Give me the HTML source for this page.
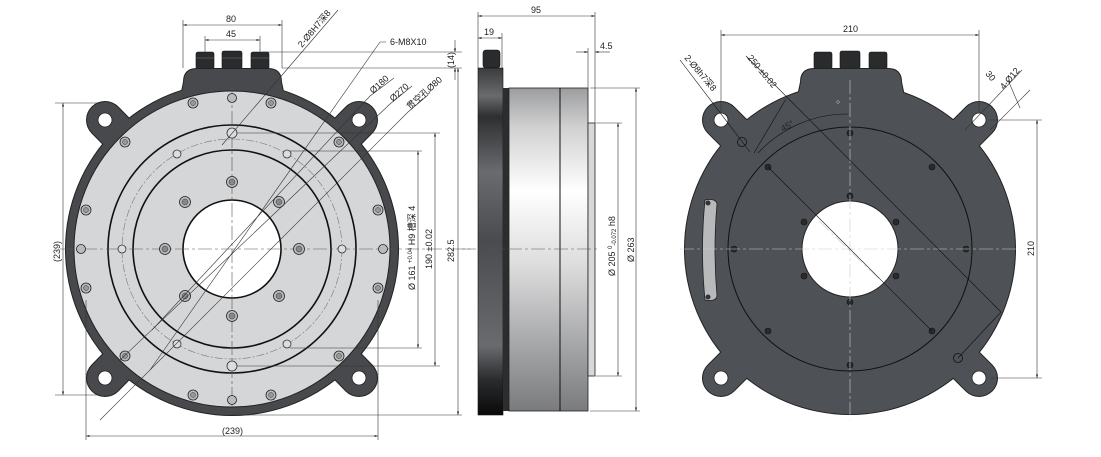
<!DOCTYPE html>
<html><head><meta charset="utf-8"><style>
html,body{margin:0;padding:0;background:#fff;}
svg{display:block;}
text{font-family:"Liberation Sans","Noto Sans CJK SC",sans-serif;font-size:9px;fill:#222;}
</style></head><body>
<svg width="1101" height="457" viewBox="0 0 1101 457" xmlns="http://www.w3.org/2000/svg">
<defs>
<linearGradient id="side" gradientUnits="userSpaceOnUse" x1="0" y1="88" x2="0" y2="411">
<stop offset="0" stop-color="#9c9d9f"/><stop offset="0.12" stop-color="#d0d0d1"/><stop offset="0.32" stop-color="#ffffff"/><stop offset="0.55" stop-color="#dcdcdd"/><stop offset="0.85" stop-color="#9a9b9d"/><stop offset="1" stop-color="#7a7b7d"/>
</linearGradient>
<linearGradient id="flange" gradientUnits="userSpaceOnUse" x1="0" y1="68" x2="0" y2="415">
<stop offset="0" stop-color="#3a3b3d"/><stop offset="0.08" stop-color="#6a6b6d"/><stop offset="0.14" stop-color="#2e2f31"/><stop offset="0.3" stop-color="#6a6b6e"/><stop offset="0.5" stop-color="#4a4b4e"/><stop offset="0.8" stop-color="#6a6b6e"/><stop offset="0.9" stop-color="#2a2b2d"/><stop offset="1" stop-color="#0a0a0a"/>
</linearGradient>
<marker id="a" viewBox="0 0 10 10" refX="10" refY="5" markerWidth="6" markerHeight="6" orient="auto-start-reverse"><path d="M0,2L10,5L0,8z" fill="#222"/></marker>
</defs>

<!-- ============ LEFT VIEW ============ -->
<g>
<g fill="#2a2b2d" stroke="#111" stroke-width="0.6">
<rect x="196" y="52" width="18" height="17" rx="2"/><rect x="222" y="51" width="20" height="18" rx="2"/><rect x="251" y="52" width="18" height="17" rx="2"/>
</g>
<g stroke="#777" stroke-width="0.5"><line x1="196" y1="58" x2="214" y2="58"/><line x1="222" y1="58" x2="242" y2="58"/><line x1="251" y1="58" x2="269" y2="58"/></g>
<g stroke="#222" stroke-width="38" stroke-linecap="round">
<line x1="232" y1="249" x2="105" y2="120"/><line x1="232" y1="249" x2="359" y2="120"/><line x1="232" y1="249" x2="105" y2="378"/><line x1="232" y1="249" x2="359" y2="378"/>
</g>
<path d="M183,82 Q183,68 197,68 L268,68 Q282,68 282,82 L290,120 L175,120 Z" fill="#222"/>
<circle cx="232" cy="249" r="167" fill="#222"/>
<g stroke="#47494d" stroke-width="36" stroke-linecap="round">
<line x1="232" y1="249" x2="105" y2="120"/><line x1="232" y1="249" x2="359" y2="120"/><line x1="232" y1="249" x2="105" y2="378"/><line x1="232" y1="249" x2="359" y2="378"/>
</g>
<path d="M184,82 Q184,69 197,69 L268,69 Q281,69 281,82 L289,120 L176,120 Z" fill="#47494d"/>
<circle cx="232" cy="249" r="166" fill="#47494d"/>
<g fill="#fff" stroke="#222" stroke-width="0.8">
<circle cx="105" cy="120" r="7"/><circle cx="359" cy="120" r="7"/><circle cx="105" cy="378" r="7"/><circle cx="359" cy="378" r="7"/>
</g>
<circle cx="232" cy="249" r="158" fill="#d5d6d8" stroke="#222" stroke-width="1"/>
<circle cx="232" cy="249" r="124" fill="none" stroke="#111" stroke-width="1.6"/>
<circle cx="232" cy="249" r="99" fill="none" stroke="#111" stroke-width="1.6"/>
<circle cx="232" cy="249" r="110" fill="none" stroke="#777" stroke-width="0.6" stroke-dasharray="8,2,2,2"/>
<circle cx="232" cy="249" r="49" fill="#fff" stroke="#111" stroke-width="1.6"/>
<g stroke="#555" stroke-width="0.6" stroke-dasharray="14,3,3,3">
<line x1="232" y1="88" x2="232" y2="413"/><line x1="60" y1="249" x2="470" y2="249"/>
</g>
<g fill="#bbb" stroke="#222" stroke-width="0.8">
<circle cx="271" cy="103" r="5"/><circle cx="193" cy="103" r="5"/><circle cx="339" cy="142" r="5"/><circle cx="125" cy="142" r="5"/>
<circle cx="378" cy="210" r="5"/><circle cx="86" cy="210" r="5"/><circle cx="378" cy="288" r="5"/><circle cx="86" cy="288" r="5"/>
<circle cx="339" cy="356" r="5"/><circle cx="125" cy="356" r="5"/><circle cx="271" cy="395" r="5"/><circle cx="193" cy="395" r="5"/>
<circle cx="232" cy="98" r="4.5"/><circle cx="232" cy="400" r="4.5"/><circle cx="81" cy="249" r="4.5"/><circle cx="383" cy="249" r="4.5"/>
</g>
<g fill="#999" stroke="#333" stroke-width="0.5">
<circle cx="271" cy="103" r="2.5"/><circle cx="193" cy="103" r="2.5"/><circle cx="339" cy="142" r="2.5"/><circle cx="125" cy="142" r="2.5"/>
<circle cx="378" cy="210" r="2.5"/><circle cx="86" cy="210" r="2.5"/><circle cx="378" cy="288" r="2.5"/><circle cx="86" cy="288" r="2.5"/>
<circle cx="339" cy="356" r="2.5"/><circle cx="125" cy="356" r="2.5"/><circle cx="271" cy="395" r="2.5"/><circle cx="193" cy="395" r="2.5"/>
</g>
<g fill="#bbb" stroke="#222" stroke-width="0.8">
<circle cx="232" cy="182" r="5.5"/><circle cx="232" cy="316" r="5.5"/><circle cx="165" cy="249" r="5.5"/><circle cx="299" cy="249" r="5.5"/>
<circle cx="279" cy="202" r="5.5"/><circle cx="185" cy="202" r="5.5"/><circle cx="279" cy="296" r="5.5"/><circle cx="185" cy="296" r="5.5"/>
</g>
<g fill="#888" stroke="#333" stroke-width="0.5">
<circle cx="232" cy="182" r="3"/><circle cx="232" cy="316" r="3"/><circle cx="165" cy="249" r="3"/><circle cx="299" cy="249" r="3"/>
<circle cx="279" cy="202" r="3"/><circle cx="185" cy="202" r="3"/><circle cx="279" cy="296" r="3"/><circle cx="185" cy="296" r="3"/>
</g>
<g fill="#ddd" stroke="#333" stroke-width="0.8">
<circle cx="177" cy="154" r="4"/><circle cx="287" cy="154" r="4"/><circle cx="177" cy="344" r="4"/><circle cx="287" cy="344" r="4"/>
<circle cx="122" cy="249" r="4"/><circle cx="342" cy="249" r="4"/>
<circle cx="232" cy="133" r="5"/><circle cx="232" cy="366" r="5"/>
</g>
<g stroke="#333" stroke-width="0.6" fill="none">
<line x1="338" y1="10" x2="222" y2="145"/>
<polyline points="386,42 380,42 150,370"/>
<polyline points="394,78 370,96 152,330"/>
<polyline points="412,86 390,104 120,360"/>
<polyline points="428,95 408,112 100,420"/>
</g>
<text transform="translate(302,48) rotate(-50)">2-Ø8H7深8</text>
<text x="390" y="45">6-M8X10</text>
<text transform="translate(373,94) rotate(-42)">Ø180</text>
<text transform="translate(393,102) rotate(-42)">Ø270</text>
<text transform="translate(410,110) rotate(-42)">贯空孔Ø80</text>
<g stroke="#333" stroke-width="0.6" fill="none">
<line x1="183" y1="20" x2="183" y2="68"/><line x1="282" y1="20" x2="282" y2="68"/>
<line x1="183" y1="25" x2="282" y2="25" marker-start="url(#a)" marker-end="url(#a)"/>
<line x1="205" y1="36" x2="205" y2="52"/><line x1="260" y1="36" x2="260" y2="52"/>
<line x1="205" y1="40" x2="260" y2="40" marker-start="url(#a)" marker-end="url(#a)"/>
<line x1="262" y1="52" x2="462" y2="52"/><line x1="282" y1="68" x2="462" y2="68"/>
<line x1="455" y1="40" x2="455" y2="52" marker-end="url(#a)"/><line x1="455" y1="80" x2="455" y2="68" marker-end="url(#a)"/>
<line x1="458" y1="68" x2="458" y2="415" marker-start="url(#a)" marker-end="url(#a)"/>
<line x1="232" y1="415" x2="462" y2="415"/>
<line x1="237" y1="133" x2="440" y2="133"/><line x1="237" y1="366" x2="440" y2="366"/>
<line x1="435" y1="133" x2="435" y2="366" marker-start="url(#a)" marker-end="url(#a)"/>
<line x1="290" y1="151" x2="422" y2="151"/><line x1="290" y1="348" x2="422" y2="348"/>
<line x1="418" y1="151" x2="418" y2="348" marker-start="url(#a)" marker-end="url(#a)"/>
<line x1="55" y1="103" x2="100" y2="103"/><line x1="55" y1="395" x2="100" y2="395"/>
<line x1="63" y1="103" x2="63" y2="395" marker-start="url(#a)" marker-end="url(#a)"/>
<line x1="86" y1="300" x2="86" y2="440"/><line x1="378" y1="300" x2="378" y2="440"/>
<line x1="86" y1="436" x2="378" y2="436" marker-start="url(#a)" marker-end="url(#a)"/>
</g>
<text x="226" y="22">80</text><text x="226" y="37">45</text>
<text transform="translate(454,68) rotate(-90)" font-size="8">(14)</text>
<text transform="translate(454,262) rotate(-90)">282.5</text>
<text transform="translate(432,269) rotate(-90)">190 ±0.02</text>
<text transform="translate(415,290) rotate(-90)">Ø 161 <tspan font-size="6" dy="-3">+0.04</tspan><tspan font-size="9" dy="3"> H9 槽深 4</tspan></text>
<text transform="translate(60,262) rotate(-90)" font-size="8">(239)</text>
<text x="222" y="434" font-size="8">(239)</text>
</g>

<!-- ============ SIDE VIEW ============ -->
<g>
<rect x="483" y="50" width="17" height="18" rx="3" fill="#2a2b2d" stroke="#111" stroke-width="0.6"/>
<rect x="478" y="68" width="25" height="347" fill="url(#flange)" stroke="#111" stroke-width="0.6"/>
<rect x="503" y="88" width="6" height="323" fill="#2c2d2f"/>
<rect x="509" y="88" width="79" height="323" fill="url(#side)" stroke="#222" stroke-width="0.8"/>
<line x1="560" y1="88" x2="560" y2="411" stroke="#111" stroke-width="1"/>
<rect x="588" y="123" width="7" height="253" fill="#d8d8d8" stroke="#222" stroke-width="0.8"/>
<line x1="462" y1="249" x2="600" y2="249" stroke="#555" stroke-width="0.6" stroke-dasharray="14,3,3,3"/>
<g stroke="#333" stroke-width="0.6" fill="none">
<line x1="478" y1="12" x2="478" y2="68"/><line x1="595" y1="12" x2="595" y2="123"/>
<line x1="478" y1="16" x2="595" y2="16" marker-start="url(#a)" marker-end="url(#a)"/>
<line x1="502" y1="33" x2="502" y2="68"/>
<line x1="478" y1="38" x2="502" y2="38" marker-start="url(#a)" marker-end="url(#a)"/>
<line x1="588" y1="48" x2="588" y2="88"/>
<line x1="576" y1="52" x2="588" y2="52" marker-end="url(#a)"/><line x1="610" y1="52" x2="595" y2="52" marker-end="url(#a)"/>
<line x1="596" y1="123" x2="622" y2="123"/><line x1="596" y1="376" x2="622" y2="376"/>
<line x1="618" y1="123" x2="618" y2="376" marker-start="url(#a)" marker-end="url(#a)"/>
<line x1="590" y1="88" x2="640" y2="88"/><line x1="590" y1="411" x2="640" y2="411"/>
<line x1="636" y1="88" x2="636" y2="411" marker-start="url(#a)" marker-end="url(#a)"/>
</g>
<text x="531" y="13">95</text><text x="484" y="35">19</text><text x="600" y="49">4.5</text>
<text transform="translate(615,276) rotate(-90)">Ø 205 <tspan font-size="6" dy="-3">0</tspan><tspan font-size="6" dy="4">-0.072</tspan><tspan dy="-1"> h8</tspan></text>
<text transform="translate(634,262) rotate(-90)">Ø 263</text>
</g>

<!-- ============ RIGHT VIEW ============ -->
<g>
<g fill="#2a2b2d" stroke="#111" stroke-width="0.6">
<rect x="814" y="52" width="18" height="17" rx="2"/><rect x="840" y="51" width="20" height="18" rx="2"/><rect x="869" y="52" width="18" height="17" rx="2"/>
</g>
<g stroke="#222" stroke-width="38" stroke-linecap="round">
<line x1="850" y1="249" x2="721" y2="120"/><line x1="850" y1="249" x2="979" y2="120"/><line x1="850" y1="249" x2="721" y2="378"/><line x1="850" y1="249" x2="979" y2="378"/>
</g>
<path d="M800,82 Q800,68 814,68 L888,68 Q902,68 902,82 L910,120 L792,120 Z" fill="#222"/>
<circle cx="850" cy="249" r="166" fill="#222"/>
<g stroke="#4e5156" stroke-width="36" stroke-linecap="round">
<line x1="850" y1="249" x2="721" y2="120"/><line x1="850" y1="249" x2="979" y2="120"/><line x1="850" y1="249" x2="721" y2="378"/><line x1="850" y1="249" x2="979" y2="378"/>
</g>
<path d="M801,82 Q801,69 814,69 L888,69 Q901,69 901,82 L909,120 L793,120 Z" fill="#4e5156"/>
<circle cx="850" cy="249" r="165" fill="#4e5156"/>
<g fill="#fff" stroke="#222" stroke-width="0.8">
<circle cx="721" cy="120" r="7"/><circle cx="979" cy="120" r="7"/><circle cx="721" cy="378" r="7"/><circle cx="979" cy="378" r="7"/>
</g>
<circle cx="850" cy="249" r="122" fill="none" stroke="#111" stroke-width="1"/>
<circle cx="850" cy="249" r="48" fill="#fff" stroke="#222" stroke-width="1"/>
<path d="M705,200 Q716,198 717,204 Q713,250 717,296 Q716,302 705,300 Q700,250 705,200 Z" fill="#b8b9bb" stroke="#222" stroke-width="0.8"/>
<circle cx="708" cy="203" r="2.5" fill="#333"/><circle cx="708" cy="297" r="2.5" fill="#333"/>
<g fill="#2a2b2d" stroke="#111" stroke-width="0.6">
<circle cx="850" cy="133" r="3"/><circle cx="850" cy="365" r="3"/><circle cx="734" cy="249" r="3"/><circle cx="966" cy="249" r="3"/>
<circle cx="768" cy="167" r="3"/><circle cx="932" cy="167" r="3"/><circle cx="768" cy="331" r="3"/><circle cx="932" cy="331" r="3"/>
<circle cx="850" cy="196" r="3"/><circle cx="850" cy="302" r="3"/><circle cx="804" cy="222" r="3"/><circle cx="896" cy="222" r="3"/><circle cx="804" cy="276" r="3"/><circle cx="896" cy="276" r="3"/>
</g>
<circle cx="742" cy="142" r="4.5" fill="none" stroke="#111" stroke-width="0.8"/>
<circle cx="958" cy="358" r="4.5" fill="none" stroke="#111" stroke-width="0.8"/>
<circle cx="838" cy="102" r="1.3" fill="none" stroke="#ccc" stroke-width="0.5"/>
<g stroke="#ccc" stroke-width="0.6" stroke-dasharray="14,3,3,3">
<line x1="850" y1="80" x2="850" y2="420"/><line x1="680" y1="249" x2="1020" y2="249"/>
</g>
<line x1="819" y1="221" x2="880" y2="280" stroke="#ccc" stroke-width="0.6" stroke-dasharray="14,3,3,3"/>
<g stroke="#111" stroke-width="0.6" fill="none">
<line x1="746" y1="56" x2="1001" y2="312"/>
<line x1="768" y1="167" x2="932" y2="331"/>
<line x1="786" y1="99" x2="754" y2="153"/>
<path d="M758,153 A122,122 0 0 1 848,114"/>
<line x1="680" y1="60" x2="750" y2="152"/>
<line x1="1001" y1="312" x2="958" y2="358"/>
</g>
<g stroke="#333" stroke-width="0.6" fill="none">
<line x1="721" y1="30" x2="721" y2="112"/><line x1="979" y1="30" x2="979" y2="112"/>
<line x1="721" y1="35" x2="979" y2="35" marker-start="url(#a)" marker-end="url(#a)"/>
<line x1="990" y1="120" x2="1042" y2="120"/><line x1="990" y1="378" x2="1042" y2="378"/>
<line x1="1037" y1="120" x2="1037" y2="378" marker-start="url(#a)" marker-end="url(#a)"/>
<line x1="965" y1="130" x2="1022" y2="70"/><line x1="990" y1="130" x2="1030" y2="90"/>
<line x1="1008" y1="80" x2="1020" y2="108"/>
</g>
<text x="843" y="32">210</text>
<text transform="translate(1034,256) rotate(-90)">210</text>
<text transform="translate(747,58) rotate(50)">250 ±0.02</text>
<text transform="translate(684,58) rotate(50)">2-Ø8h7深8</text>
<text transform="translate(783,132) rotate(-30)" font-size="8">45°</text>
<text transform="translate(985,74) rotate(50)">30</text>
<text transform="translate(1004,90) rotate(-50)">4-Ø12</text>
</g>
</svg>
</body></html>
